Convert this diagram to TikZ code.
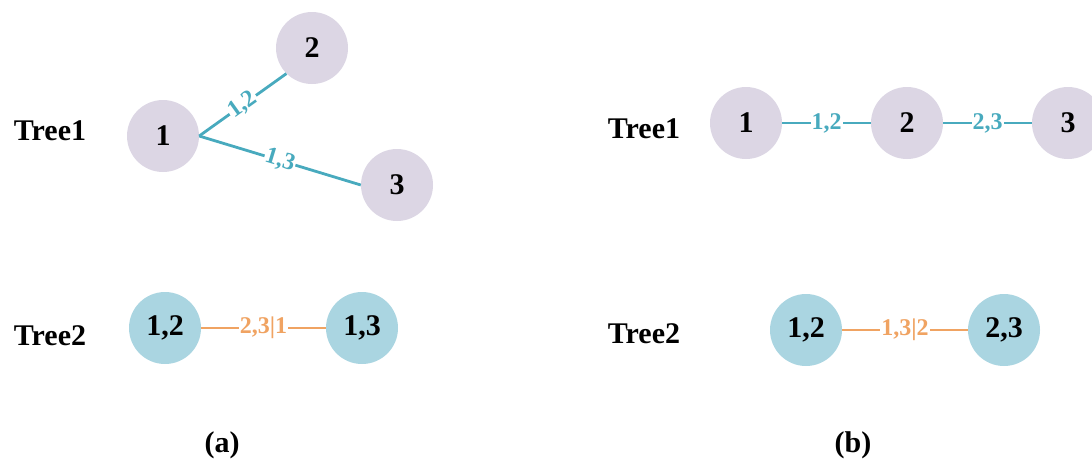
\documentclass[tikz,border=0pt]{standalone}
\usepackage{fontspec}
\setmainfont{Liberation Serif}
\definecolor{lilac}{RGB}{220,214,228}
\definecolor{skyblue}{RGB}{170,213,225}
\definecolor{tealline}{RGB}{72,170,190}
\definecolor{orangeline}{RGB}{240,163,98}
\tikzset{
  vnode/.style={circle, fill=lilac, minimum size=72pt, inner sep=0pt,
    font=\fontsize{30}{36}\selectfont\bfseries},
  enode/.style={circle, fill=skyblue, minimum size=72pt, inner sep=0pt,
    font=\fontsize{30}{36}\selectfont\bfseries},
  treelabel/.style={font=\fontsize{30}{36}\selectfont\bfseries},
  caption/.style={font=\fontsize{30}{36}\selectfont\bfseries},
  tedge/.style={draw=tealline, line width=2.8pt},
  oedge/.style={draw=orangeline, line width=2.8pt},
  tlab/.style={fill=white, inner sep=1pt, text=tealline,
    font=\fontsize{24}{28}\selectfont\bfseries},
  olab/.style={fill=white, inner sep=1pt, text=orangeline,
    font=\fontsize{24}{28}\selectfont\bfseries}
}
\begin{document}
\begin{tikzpicture}[x=1pt, y=-1pt]
  \useasboundingbox (0,0) rectangle (1092,459);
  \clip (0,0) rectangle (1092,459);

  % ---------- (a) ----------
  \node[treelabel] (a-t1) at (50,131) {Tree1};
  \node[treelabel] (a-t2) at (50,336) {Tree2};

  \node[vnode] (a1) at (163,136) {1};
  \node[vnode] (a2) at (312,48) {2};
  \node[vnode] (a3) at (397,185) {3};

  \path[tedge] (a1.east) -- (a2.south west)
    node[tlab, midway, sloped] (a12) {1,2};
  \path[tedge] (a1.east) -- (a3.west)
    node[tlab, midway, sloped] (a13) {1,3};

  \node[enode] (a-12) at (165,328) {1,2};
  \node[enode] (a-13) at (362,328) {1,3};
  \path[oedge] (a-12) -- (a-13)
    node[olab, midway] (a-231) {2,3|1};

  \node[caption] (cap-a) at (222,445) {(a)};

  % ---------- (b) ----------
  \node[treelabel] (b-t1) at (644,129) {Tree1};
  \node[treelabel] (b-t2) at (644,334) {Tree2};

  \node[vnode] (b1) at (746,123) {1};
  \node[vnode] (b2) at (907,123) {2};
  \node[vnode] (b3) at (1068,123) {3};
  \path[tedge] (b1) -- (b2) node[tlab, midway] (b12) {1,2};
  \path[tedge] (b2) -- (b3) node[tlab, midway] (b23) {2,3};

  \node[enode] (b-12) at (806,330) {1,2};
  \node[enode] (b-23) at (1004,330) {2,3};
  \path[oedge] (b-12) -- (b-23)
    node[olab, midway] (b-132) {1,3|2};

  \node[caption] (cap-b) at (853,445) {(b)};
\end{tikzpicture}
\end{document}
